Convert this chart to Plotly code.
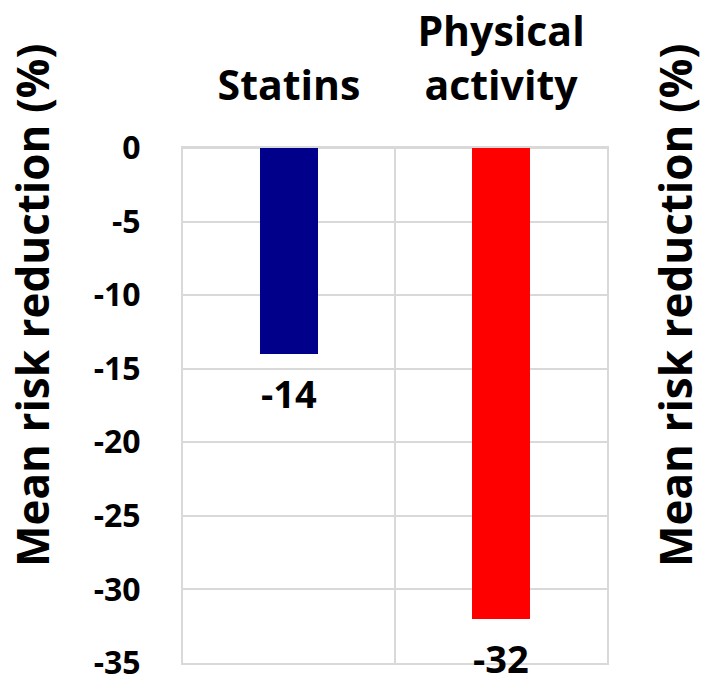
import plotly.graph_objects as go

# Data
categories = ["Statins", "Physical<br>activity"]
values = [-14, -32]
bar_colors = ["#00008B", "#FF0000"]
y_ticks = [0, -5, -10, -15, -20, -25, -30, -35]
y_title = "Mean risk reduction (%)"

W, H = 704, 678
L, R, T, B = 183, 97, 148, 15
plot_w = W - L - R
plot_h = H - T - B
GRID = "#d9d9d9"

fig = go.Figure()
fig.add_trace(go.Bar(
    x=categories,
    y=values,
    marker=dict(color=bar_colors, line=dict(width=0)),
    width=0.27,
    showlegend=False,
    hoverinfo="skip",
))

# value labels under each bar end
for cat, v in zip(categories, values):
    fig.add_annotation(
        x=cat, y=v, xref="x", yref="y",
        text=str(v), showarrow=False,
        yanchor="top", yshift=-11,
        font=dict(family="Open Sans", size=38, color="black", weight="bold"),
    )

# axis title on the left and its repeated copy at the right edge
def px_x(px):
    return (px - L) / plot_w

def px_y(py):
    return (T + plot_h - py) / plot_h

for cx in (32, 675):
    fig.add_annotation(
        x=px_x(cx), y=px_y(306), xref="paper", yref="paper",
        text=y_title, showarrow=False, textangle=-90,
        xanchor="center", yanchor="middle",
        font=dict(family="Open Sans", size=44, color="black", weight="bold"),
    )

fig.update_layout(
    width=W, height=H,
    margin=dict(l=L, r=R, t=T, b=B, pad=0, autoexpand=False),
    paper_bgcolor="white", plot_bgcolor="white",
    bargap=0,
    xaxis=dict(
        side="top",
        type="category",
        range=[-0.5, 1.5],
        tickson="boundaries",
        showgrid=True, gridcolor=GRID, gridwidth=2,
        showline=True, mirror=True, linecolor=GRID, linewidth=2,
        ticks="", zeroline=False, automargin=False,
        tickfont=dict(family="Open Sans", size=41, color="black", weight="bold"),
        ticklabelstandoff=30,
    ),
    yaxis=dict(
        range=[-35, 0],
        tickvals=y_ticks,
        ticktext=[str(t) for t in y_ticks],
        showgrid=True, gridcolor=GRID, gridwidth=2,
        zeroline=True, zerolinecolor=GRID, zerolinewidth=2,
        showline=True, mirror=True, linecolor=GRID, linewidth=2,
        ticks="", automargin=False,
        ticklabeloverflow="allow",
        tickfont=dict(family="Open Sans", size=32, color="black", weight="bold"),
        ticklabelstandoff=34,
    ),
)

fig.write_html("out.html")
